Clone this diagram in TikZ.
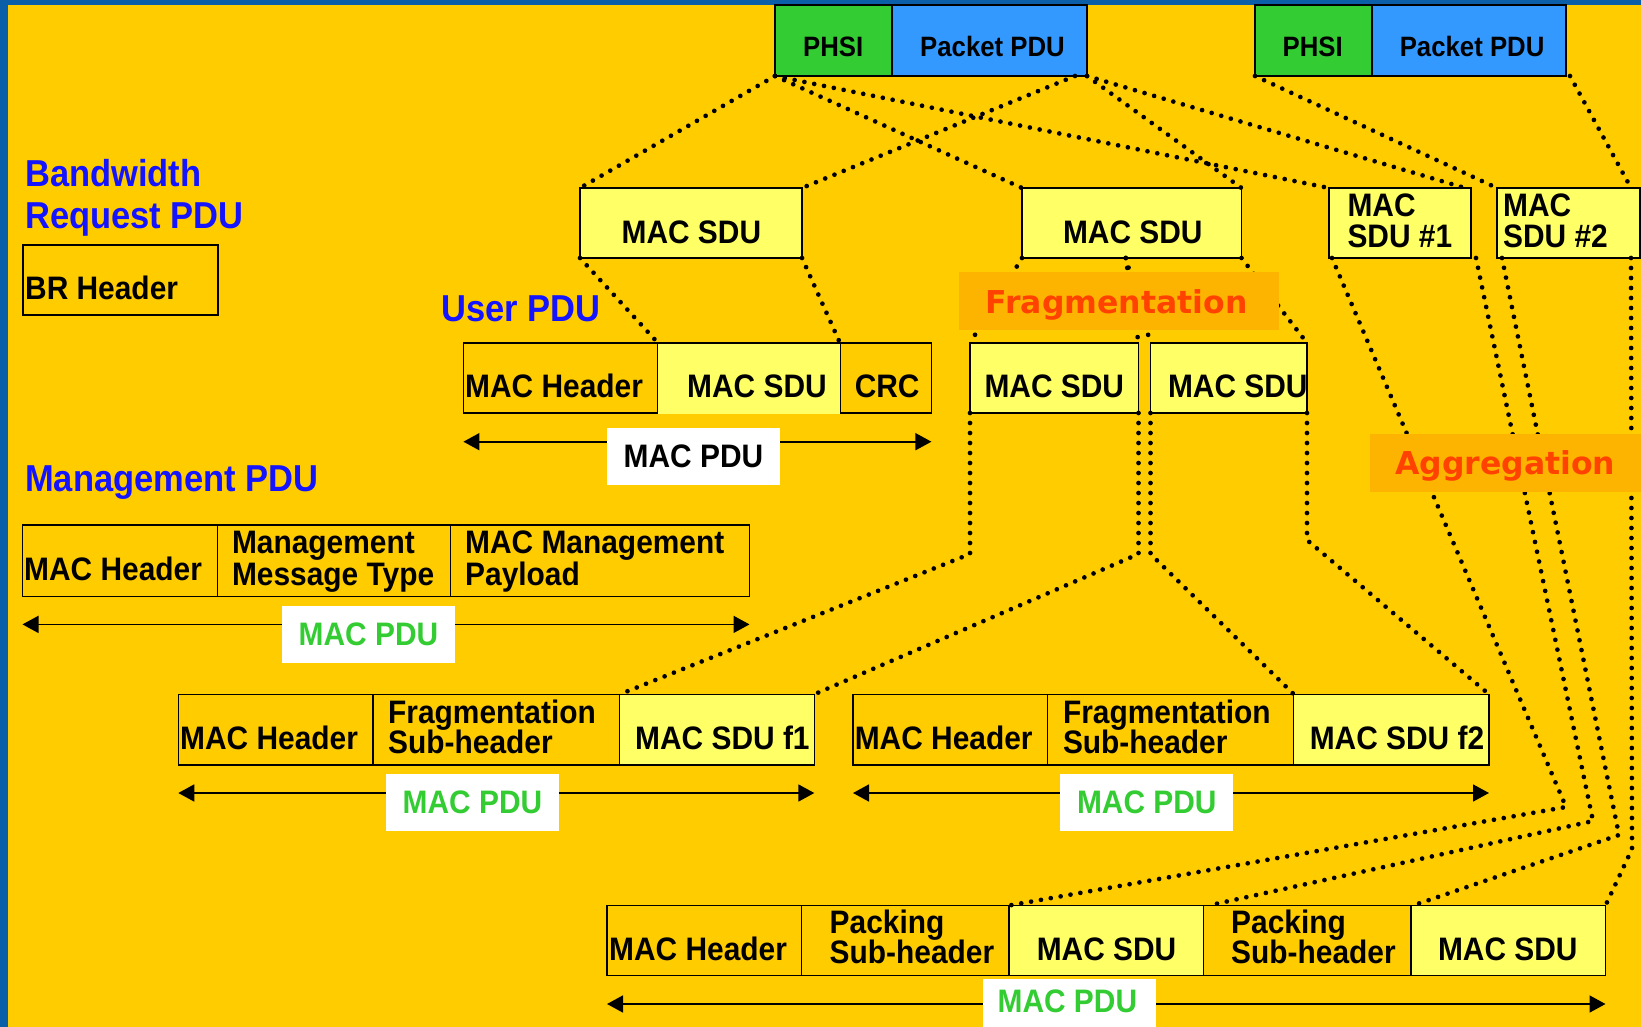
\documentclass[tikz,border=0pt]{standalone}
\usepackage{fontspec}
\setmainfont{Liberation Sans}[FakeStretch=0.92]
\newfontfamily\tagfont{DejaVu Sans}
\usetikzlibrary{arrows.meta}

\definecolor{bgyellow}{HTML}{FFCC00}
\definecolor{frameblue}{HTML}{0B5EA8}
\definecolor{sduyellow}{HTML}{FFFF66}
\definecolor{phsigreen}{HTML}{33CC33}
\definecolor{pktblue}{HTML}{3399FF}
\definecolor{headblue}{HTML}{1414FF}
\definecolor{pdugreen}{HTML}{33CC33}
\definecolor{tagorange}{HTML}{FDB400}
\definecolor{tagred}{HTML}{FF4200}

% rectangular cell given by its name, two corners and a style
\newcommand\cellbox[6]{\node[#6, anchor=north west,
  minimum width={(#4)-(#2)}, minimum height={(#5)-(#3)}] (#1) at (#2,#3) {};}

\begin{document}
\begin{tikzpicture}[x=1pt,y=-1pt,
  cell/.style={draw=black, line width=1.3pt, inner sep=0pt, outer sep=0pt},
  sducell/.style={cell, fill=sduyellow},
  bare/.style={inner sep=0pt, outer sep=0pt},
  txt/.style={anchor=base west, inner sep=0pt, yshift=-1.2pt, font=\fontsize{32.5}{36}\selectfont\bfseries},
  toptxt/.style={anchor=base west, inner sep=0pt, yshift=-2pt, font=\fontsize{28}{30}\selectfont\bfseries},
  headtxt/.style={anchor=base west, inner sep=0pt, yshift=-1.5pt, text=headblue, font=\fontsize{37.5}{40}\selectfont\bfseries},
  tagbox/.style={bare, fill=tagorange},
  tagtxt/.style={anchor=base west, inner sep=0pt, text=tagred, font=\tagfont\bfseries\fontsize{31.5}{34}\selectfont},
  dotline/.style={line width=4.7pt, dash pattern=on 0pt off 10pt, line cap=round},
  pdu/.style={line width=1.7pt, {Triangle[length=16pt,width=17pt]}-{Triangle[length=16pt,width=17pt]}},
  pdutag/.style={fill=white, inner sep=0pt, minimum width=173pt, minimum height=57pt,
    font=\fontsize{32.5}{36}\selectfont\bfseries},
]
\useasboundingbox (0,0) rectangle (1641,1027);
\clip (0,0) rectangle (1641,1027);

% slide background and frame
\fill[bgyellow] (0,0) rectangle (1641,1027);
\fill[frameblue] (0,0) rectangle (8,1027);
\fill[frameblue] (0,0) rectangle (1641,5);

% ---------- boxes ----------
% packets
\cellbox{phsiA}{775}{5}{892}{76}{cell, fill=phsigreen}
\cellbox{pktA}{892}{5}{1087}{76}{cell, fill=pktblue}
\cellbox{phsiB}{1255}{5}{1372}{76}{cell, fill=phsigreen}
\cellbox{pktB}{1372}{5}{1566}{76}{cell, fill=pktblue}

% MAC SDUs
\cellbox{sduA}{580}{188}{802}{258}{sducell}
\cellbox{sduB}{1022}{188}{1241.5}{258}{sducell}
\cellbox{sdu1}{1329}{188}{1471}{258}{sducell}
\cellbox{sdu2}{1497}{188}{1640}{258}{sducell}

% bandwidth request PDU
\cellbox{brh}{23}{245}{218}{315}{cell}

% user PDU
\cellbox{uh}{463.4}{343}{658}{413}{cell}
\cellbox{uc}{840}{343}{931.4}{413}{cell}
\cellbox{us}{658}{343}{840}{413.6}{bare, fill=sduyellow}

% fragments of the second SDU
\cellbox{fs1}{970}{343}{1138.5}{413}{sducell}
\cellbox{fs2}{1150.5}{343}{1307}{413}{sducell}

% management PDU
\cellbox{mh}{22.5}{525}{217.6}{596.5}{cell}
\cellbox{mt}{217.6}{525}{450.8}{596.5}{cell}
\cellbox{mp}{450.8}{525}{749.5}{596.5}{cell}

% fragmented PDUs
\cellbox{fa1}{178.3}{694.3}{373}{765}{cell}
\cellbox{fa2}{373}{694.3}{619.8}{765}{cell}
\cellbox{fa3}{619.8}{694.3}{814.3}{765}{sducell}
\cellbox{fb1}{853}{694.3}{1047.5}{765}{cell}
\cellbox{fb2}{1047.5}{694.3}{1293.8}{765}{cell}
\cellbox{fb3}{1293.8}{694.3}{1489}{765}{sducell}

% packed PDU
\cellbox{ph}{607}{905.5}{801.7}{975.5}{cell}
\cellbox{pp1}{801.7}{905.5}{1009}{975.5}{cell}
\cellbox{ps1}{1009}{905.5}{1203.6}{975.5}{sducell}
\cellbox{pp2}{1203.6}{905.5}{1411}{975.5}{cell}
\cellbox{ps2}{1411}{905.5}{1605.5}{975.5}{sducell}

% ---------- dotted mappings ----------
\coordinate (kneeA) at (0,554);
\coordinate (kneeB) at (0,540);
\coordinate (bendA) at (1566,807);
\coordinate (bendB) at (1593,821);
\coordinate (bendC) at (1619,835);
\coordinate (bendD) at (1632,849);

\draw[dotline] (phsiA.south west) -- (sduA.north west);
\draw[dotline] (phsiA.south west) -- (sduB.north west);
\draw[dotline] (phsiA.south west) -- (sdu1.north west);
\draw[dotline] ([xshift=-12pt]pktA.south east) -- (sduA.north east);
\draw[dotline] (pktA.south east) -- (sduB.north east);
\draw[dotline] (pktA.south east) -- ([xshift=-6pt]sdu1.north east);
\draw[dotline] (phsiB.south west) -- (sdu2.north west);
\draw[dotline] ([xshift=4pt]pktB.south east) -- ([xshift=-9pt]sdu2.north east);

\draw[dotline] (sduA.south west) -- (us.north west);
\draw[dotline] (sduA.south east) -- (us.north east);

\draw[dotline] (sduB.south west) -- (fs1.north west);
\draw[dotline] ([xshift=-6pt]sduB.south) -- (fs1.north east);
\draw[dotline] ([xshift=-6pt]sduB.south) -- (fs2.north west);
\draw[dotline] (sduB.south east) -- (fs2.north east);

\draw[dotline] (fs1.south west) -- (fs1.south west |- kneeA) -- (fa3.north west);
\draw[dotline] (fs1.south east) -- (fs1.south east |- kneeA) -- (fa3.north east);
\draw[dotline] (fs2.south west) -- (fs2.south west |- kneeA) -- (fb3.north west);
\draw[dotline] (fs2.south east) -- (fs2.south east |- kneeB) -- (fb3.north east);

\draw[dotline] ([xshift=3pt]sdu1.south west) -- (bendA) -- (ps1.north west);
\draw[dotline] ([xshift=5pt]sdu1.south east) -- (bendB) -- ([xshift=5pt]ps1.north east);
\draw[dotline] ([xshift=5pt]sdu2.south west) -- (bendC) -- ([xshift=2pt]ps2.north west);
\draw[dotline] ([xshift=-9pt]sdu2.south east) -- (bendD) -- (ps2.north east);

% top edge of the user SDU cell
\draw[line width=1.3pt] (us.north west) -- (us.north east);

% ---------- texts ----------
\node[toptxt] (tPhsiA) at (803,55) {PHSI};
\node[toptxt] (tPktA) at (920,55) {Packet PDU};
\node[toptxt] (tPhsiB) at (1282.4,55) {PHSI};
\node[toptxt] (tPktB) at (1399.6,55) {Packet PDU};

\node[headtxt] (hBw1) at (25,185) {Bandwidth};
\node[headtxt] (hBw2) at (25,226.7) {Request PDU};
\node[headtxt] (hUser) at (441.5,320) {User PDU};
\node[headtxt] (hMgmt) at (25,490) {Management PDU};

\node[txt] (tSduA) at (621.4,242.7) {MAC SDU};
\node[txt] (tSduB) at (1062.8,242.7) {MAC SDU};
\node[txt] (tSdu1a) at (1347.3,215) {MAC};
\node[txt] (tSdu1b) at (1347.3,246.7) {SDU \#1};
\node[txt] (tSdu2a) at (1503,215) {MAC};
\node[txt] (tSdu2b) at (1503,246.7) {SDU \#2};

\node[txt] (tBrh) at (25,298) {BR Header};

\node[txt] (tUh) at (465,396.7) {MAC Header};
\node[txt] (tUs) at (687,396.7) {MAC SDU};
\node[txt] (tUc) at (854.6,396.7) {CRC};

\node[txt] (tFs1) at (984.3,396.7) {MAC SDU};
\node[txt] (tFs2) at (1167.8,396.7) {MAC SDU};

\node[txt] (tMh) at (24,579.7) {MAC Header};
\node[txt] (tMt1) at (231.8,552) {Management};
\node[txt] (tMt2) at (231.8,584) {Message Type};
\node[txt] (tMp1) at (465,552) {MAC Management};
\node[txt] (tMp2) at (465,584) {Payload};

\node[txt] (tFa1) at (180,748.7) {MAC Header};
\node[txt] (tFa2a) at (388,721.8) {Fragmentation};
\node[txt] (tFa2b) at (388,752) {Sub-header};
\node[txt] (tFa3) at (635,748.7) {MAC SDU f1};
\node[txt] (tFb1) at (854.6,748.7) {MAC Header};
\node[txt] (tFb2a) at (1062.8,721.8) {Fragmentation};
\node[txt] (tFb2b) at (1062.8,752) {Sub-header};
\node[txt] (tFb3) at (1309.6,748.7) {MAC SDU f2};

\node[txt] (tPh) at (609,958.8) {MAC Header};
\node[txt] (tPp1a) at (829.5,932) {Packing};
\node[txt] (tPp1b) at (829.5,962) {Sub-header};
\node[txt] (tPs1) at (1036.6,958.8) {MAC SDU};
\node[txt] (tPp2a) at (1231,932) {Packing};
\node[txt] (tPp2b) at (1231,962) {Sub-header};
\node[txt] (tPs2) at (1437.8,958.8) {MAC SDU};

% ---------- PDU extents ----------
\draw[pdu] ([yshift=-28.7pt]uh.south west) -- ([yshift=-28.7pt]uc.south east);
\node[pdutag] (userPdu) at (693.5,456) {MAC PDU};

\draw[pdu] ([yshift=-27.9pt]mh.south west) -- ([yshift=-27.9pt]mp.south east);
\node[pdutag, text=pdugreen] (mgmtPdu) at (368.5,634) {MAC PDU};

\draw[pdu] ([yshift=-28pt]fa1.south west) -- ([yshift=-28pt]fa3.south east);
\node[pdutag, text=pdugreen] (fragPduA) at (472.5,802.5) {MAC PDU};

\draw[pdu] ([yshift=-28pt]fb1.south west) -- ([yshift=-28pt]fb3.south east);
\node[pdutag, text=pdugreen] (fragPduB) at (1146.8,802.5) {MAC PDU};

\draw[pdu] ([yshift=-28.5pt]ph.south west) -- ([yshift=-28.5pt]ps2.south east);
\node[pdutag] (packPdu) at (1069,1007.5) {};
\node[txt, text=pdugreen] (packPduText) at (997.4,1011) {MAC PDU};

% ---------- operation tags ----------
\cellbox{fragTag}{959}{272}{1279}{329.7}{tagbox}
\node[tagtxt] (fragText) at (985.5,313.3) {Fragmentation};
\cellbox{aggTag}{1370}{434}{1660}{491.7}{tagbox}
\node[tagtxt] (aggText) at (1395,474.5) {Aggregation};

\end{tikzpicture}
\end{document}
